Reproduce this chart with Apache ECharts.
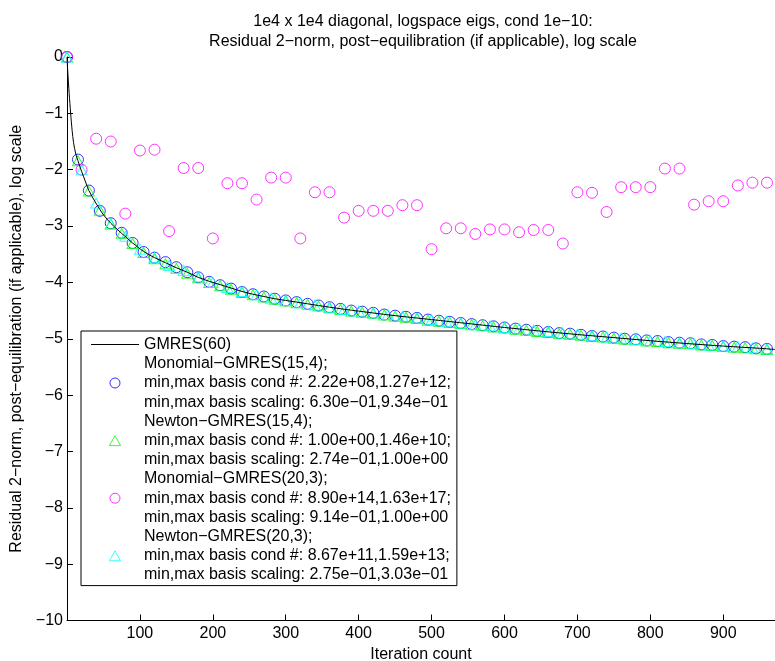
<!DOCTYPE html>
<html>
<head>
<meta charset="utf-8">
<script src="https://cdn.jsdelivr.net/npm/echarts@6/dist/echarts.min.js"></script>
<style>
html,body{margin:0;padding:0;background:#fff;}
#chart{width:775px;height:661px;}
</style>
</head>
<body>
<div id="chart"></div>
<script>
// ---- Data ----
const titleLines = ['1e4 x 1e4 diagonal, logspace eigs, cond 1e\u221210:', 'Residual 2\u2212norm, post\u2212equilibration (if applicable), log scale'];
const xAxisName = 'Iteration count';
const yAxisName = 'Residual 2\u2212norm, post\u2212equilibration (if applicable), log scale';
const xTickValues = [100, 200, 300, 400, 500, 600, 700, 800, 900];

const seriesNames = ['GMRES(60)', 'Monomial-GMRES(15,4)', 'Newton-GMRES(15,4)', 'Monomial-GMRES(20,3)', 'Newton-GMRES(20,3)'];
const legendLabels = [
  'GMRES(60)',
  'Monomial\u2212GMRES(15,4);\nmin,max basis cond #: 2.22e+08,1.27e+12;\nmin,max basis scaling: 6.30e\u221201,9.34e\u221201',
  'Newton\u2212GMRES(15,4);\nmin,max basis cond #: 1.00e+00,1.46e+10;\nmin,max basis scaling: 2.74e\u221201,1.00e+00',
  'Monomial\u2212GMRES(20,3);\nmin,max basis cond #: 8.90e+14,1.63e+17;\nmin,max basis scaling: 9.14e\u221201,1.00e+00',
  'Newton\u2212GMRES(20,3);\nmin,max basis cond #: 8.67e+11,1.59e+13;\nmin,max basis scaling: 2.75e\u221201,3.03e\u221201'
];

// GMRES(60) residual curve
const gmresIter = [0,1,2,3,5,7,9,12,15,20,25,30,40,50,60,75,90,105,120,135,150,165,180,195,210,225,240,255,270,285,300,330,360,400,450,500,550,600,650,700,750,800,850,900,950,971];
const gmresRes  = [0,-0.25,-0.46,-0.65,-1.0,-1.3,-1.52,-1.72,-1.84,-2.03,-2.2,-2.37,-2.6,-2.8,-2.95,-3.13,-3.30,-3.45,-3.56,-3.65,-3.74,-3.82,-3.91,-3.98,-4.04,-4.10,-4.16,-4.21,-4.25,-4.29,-4.32,-4.38,-4.44,-4.51,-4.59,-4.66,-4.73,-4.80,-4.865,-4.925,-4.98,-5.035,-5.085,-5.13,-5.17,-5.19];

// Restart-cycle iterations, s=15 and s=20 variants
const iter15 = [0,15,30,45,60,75,90,105,120,135,150,165,180,195,210,225,240,255,270,285,300,315,330,345,360,375,390,405,420,435,450,465,480,495,510,525,540,555,570,585,600,615,630,645,660,675,690,705,720,735,750,765,780,795,810,825,840,855,870,885,900,915,930,945,960];
const iter20 = [0,20,40,60,80,100,120,140,160,180,200,220,240,260,280,300,320,340,360,380,400,420,440,460,480,500,520,540,560,580,600,620,640,660,680,700,720,740,760,780,800,820,840,860,880,900,920,940,960];

const monomial15 = [0,-1.82,-2.37,-2.73,-2.95,-3.12,-3.30,-3.46,-3.56,-3.64,-3.73,-3.82,-3.91,-3.99,-4.05,-4.11,-4.17,-4.21,-4.25,-4.29,-4.32,-4.35,-4.38,-4.41,-4.44,-4.47,-4.50,-4.52,-4.54,-4.57,-4.59,-4.61,-4.63,-4.66,-4.68,-4.70,-4.72,-4.74,-4.76,-4.78,-4.80,-4.82,-4.84,-4.86,-4.88,-4.90,-4.91,-4.93,-4.95,-4.96,-4.98,-5.00,-5.01,-5.03,-5.04,-5.06,-5.07,-5.08,-5.10,-5.11,-5.13,-5.14,-5.15,-5.17,-5.18];
const newton15   = [0,-1.84,-2.38,-2.72,-2.96,-3.13,-3.31,-3.47,-3.58,-3.67,-3.75,-3.84,-3.92,-4.00,-4.06,-4.12,-4.18,-4.22,-4.26,-4.30,-4.33,-4.36,-4.39,-4.42,-4.45,-4.48,-4.51,-4.53,-4.55,-4.58,-4.60,-4.62,-4.64,-4.67,-4.69,-4.71,-4.73,-4.75,-4.77,-4.79,-4.81,-4.83,-4.85,-4.87,-4.89,-4.91,-4.92,-4.94,-4.96,-4.97,-4.99,-5.01,-5.02,-5.04,-5.05,-5.07,-5.08,-5.09,-5.11,-5.12,-5.14,-5.15,-5.16,-5.18,-5.19];
const monomial20 = [0,-2.00,-1.45,-1.50,-2.78,-1.66,-1.645,-3.09,-1.97,-1.97,-3.22,-2.24,-2.24,-2.53,-2.14,-2.14,-3.22,-2.40,-2.40,-2.85,-2.73,-2.73,-2.73,-2.63,-2.63,-3.41,-3.04,-3.04,-3.14,-3.06,-3.06,-3.11,-3.07,-3.07,-3.31,-2.40,-2.41,-2.75,-2.31,-2.31,-2.31,-1.98,-1.98,-2.62,-2.56,-2.56,-2.28,-2.23,-2.23];
const newton20   = [0,-2.00,-2.59,-2.97,-3.18,-3.41,-3.56,-3.70,-3.79,-3.90,-4.00,-4.09,-4.16,-4.22,-4.28,-4.32,-4.36,-4.40,-4.44,-4.48,-4.51,-4.54,-4.57,-4.60,-4.63,-4.66,-4.69,-4.72,-4.75,-4.77,-4.80,-4.82,-4.85,-4.87,-4.90,-4.92,-4.94,-4.97,-4.99,-5.01,-5.03,-5.05,-5.07,-5.09,-5.11,-5.13,-5.14,-5.16,-5.18];

const colors = ['#000000', '#0000ff', '#00ff00', '#ff00ff', '#00ffff'];

// ---- Chart ----
const FONT = '"Liberation Sans", Arial, Helvetica, sans-serif';
const pairs = (xs, ys) => xs.map((x, i) => [x, ys[i]]);
const minus = v => String(v).replace('-', '\u2212');
const TRI = 'path://M5,0L10,9L0,9Z';
const LINE_ICON = 'path://M0,0H48V1H0Z';

function markerSeries(idx, symbol, xs, ys) {
  return {
    name: seriesNames[idx],
    type: 'scatter',
    symbol: symbol,
    symbolSize: symbol === 'circle' ? 11 : [11, 10],
    clip: false,
    data: pairs(xs, ys),
    itemStyle: { color: 'rgba(0,0,0,0)', borderColor: colors[idx], borderWidth: 1 },
    emphasis: { disabled: true }
  };
}

const chart = echarts.init(document.getElementById('chart'), null, { renderer: 'canvas' });
chart.setOption({
  animation: false,
  backgroundColor: '#ffffff',
  textStyle: { fontFamily: FONT },
  title: {
    text: titleLines.join('\n'),
    left: 423,
    top: 12,
    padding: 0,
    textAlign: 'center',
    textStyle: { fontFamily: FONT, fontSize: 16, fontWeight: 'normal', color: '#000', lineHeight: 19.5 }
  },
  grid: { left: 67, right: 0, top: 57, bottom: 40.5, containLabel: false, outerBoundsMode: 'none' },
  xAxis: {
    type: 'value',
    min: 0,
    max: 971,
    interval: 100,
    name: xAxisName,
    nameLocation: 'middle',
    nameGap: 23,
    nameTextStyle: { fontFamily: FONT, fontSize: 16, color: '#000' },
    axisLine: { show: true, onZero: false, lineStyle: { color: '#000', width: 1 } },
    axisTick: { show: true, inside: true, length: 6, lineStyle: { color: '#000' }, customValues: xTickValues },
    axisLabel: { fontFamily: FONT, fontSize: 16, color: '#000', margin: 5, customValues: xTickValues },
    splitLine: { show: false }
  },
  yAxis: {
    type: 'value',
    min: -10,
    max: 0,
    interval: 1,
    name: yAxisName,
    nameLocation: 'middle',
    nameGap: 40,
    nameTextStyle: { fontFamily: FONT, fontSize: 16, color: '#000' },
    axisLine: { show: true, onZero: false, lineStyle: { color: '#000', width: 1 } },
    axisTick: { show: true, inside: true, length: 6, lineStyle: { color: '#000' } },
    axisLabel: { fontFamily: FONT, fontSize: 16, color: '#000', margin: 4, formatter: minus },
    splitLine: { show: false }
  },
  legend: {
    show: true,
    orient: 'vertical',
    left: 81,
    top: 331,
    padding: [4, 6, 1, 10],
    itemGap: 0,
    itemWidth: 48,
    itemHeight: 10,
    symbolKeepAspect: true,
    backgroundColor: '#ffffff',
    borderColor: '#000000',
    borderWidth: 1,
    borderRadius: 0,
    selectedMode: false,
    itemStyle: { borderWidth: 1 },
    lineStyle: { width: 1 },
    textStyle: { fontFamily: FONT, fontSize: 16, lineHeight: 19.2, color: '#000' },
    formatter: name => legendLabels[seriesNames.indexOf(name)],
    data: [
      { name: seriesNames[0], icon: LINE_ICON, itemStyle: { color: '#000', borderWidth: 0 } },
      { name: seriesNames[1], icon: 'circle' },
      { name: seriesNames[2], icon: TRI },
      { name: seriesNames[3], icon: 'circle' },
      { name: seriesNames[4], icon: TRI }
    ]
  },
  series: [
    {
      name: seriesNames[0],
      type: 'line',
      data: pairs(gmresIter, gmresRes),
      symbol: 'none',
      smooth: 0.3,
      lineStyle: { color: colors[0], width: 1 },
      itemStyle: { color: colors[0] },
      emphasis: { disabled: true }
    },
    markerSeries(1, 'circle', iter15, monomial15),
    markerSeries(2, 'triangle', iter15, newton15),
    markerSeries(3, 'circle', iter20, monomial20),
    markerSeries(4, 'triangle', iter20, newton20)
  ]
});
</script>
</body>
</html>
